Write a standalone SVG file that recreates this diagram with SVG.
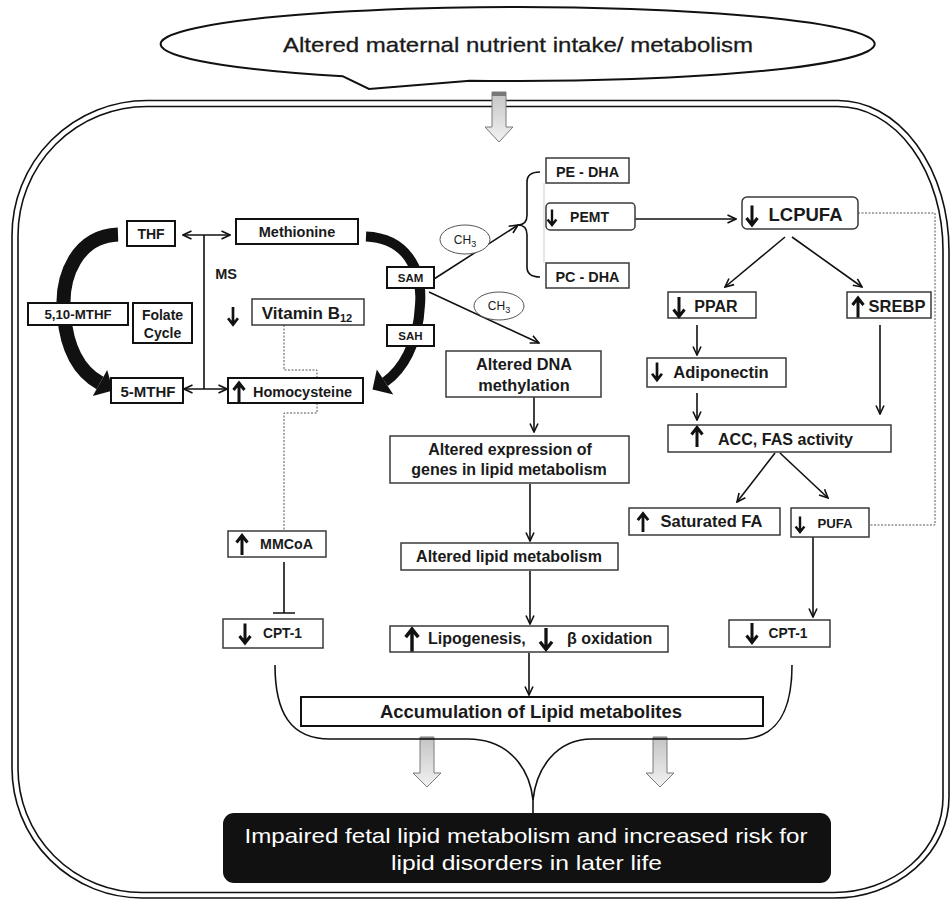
<svg xmlns="http://www.w3.org/2000/svg" xmlns:xlink="http://www.w3.org/1999/xlink" width="952" height="900" viewBox="0 0 952 900">
<style>
.t{font-family:"Liberation Sans",Arial,sans-serif;font-weight:bold;fill:#1a1a1a;text-anchor:middle}
.n{font-family:"Liberation Sans",Arial,sans-serif;font-weight:normal;fill:#1a1a1a;text-anchor:middle}
.b{fill:#fff;stroke:#3a3a3a;stroke-width:1.5}
.bk{fill:#fff;stroke:#111;stroke-width:2}
.c{fill:none;stroke:#111;stroke-width:1.6}
.d{fill:none;stroke:#555;stroke-width:1;stroke-dasharray:2 1.5}
.g{fill:url(#grad);stroke:#7a7a7a;stroke-width:1}
</style>
<defs>
<marker id="a" viewBox="0 0 10 10" refX="9" refY="5" markerWidth="10" markerHeight="10" markerUnits="userSpaceOnUse" orient="auto-start-reverse">
<path d="M0.5,1 L9,5 L0.5,9" fill="none" stroke="#111" stroke-width="1.6"/>
</marker>
<linearGradient id="grad" x1="0" y1="0" x2="0" y2="1">
<stop offset="0" stop-color="#c4c4c4"/>
<stop offset="1" stop-color="#f2f2f2"/>
</linearGradient>
<path id="dn" d="M0,-10 V8.5 M-5.5,2.5 L0,9.5 L5.5,2.5" fill="none" stroke="#111" stroke-width="3"/>
</defs>
<rect width="952" height="900" fill="#fff"/>

<!-- frame -->
<g id="frame" fill="none" stroke="#111" stroke-width="1.6">
<path d="M147,100.5 H838 A111 150 0 0 1 949,250.5 V797 A115 101 0 0 1 834,898 H142 A130 130 0 0 1 12,768 V235.5 A135 135 0 0 1 147,100.5 Z"/>
<path d="M147,106.5 H838 A105 144 0 0 1 943,250.5 V797 A109 95 0 0 1 834,892.5 H142 A124 124 0 0 1 18,768 V235.5 A129 129 0 0 1 147,106.5 Z"/>
</g>

<!-- top callout -->
<g id="callout">
<path d="M343,76.3 L369,89 L470,80.7 A357 37 0 1 0 343,76.3 Z" fill="#fff" stroke="#111" stroke-width="2"/>
<text class="n" x="518" y="52" font-size="21" textLength="470" lengthAdjust="spacingAndGlyphs" style="stroke:#1a1a1a;stroke-width:0.3">Altered maternal nutrient intake/ metabolism</text>
</g>

<!-- gray block arrows -->
<g id="blockarrows">
<polygon class="g" points="492,92 506,92 506,127 513,127 499,142 485,127 492,127"/>
<rect x="492" y="92" width="14" height="4" fill="#777"/>
<polygon class="g" points="420,737 434,737 434,773 441,773 427,787 413,773 420,773"/>
<rect x="420" y="737" width="14" height="3" fill="#888"/>
<polygon class="g" points="653,737 667,737 667,773 674,773 660,787 646,773 653,773"/>
<rect x="653" y="737" width="14" height="3" fill="#888"/>
</g>

<!-- connectors -->
<g id="connectors">
<!-- thick cycle arrows -->
<path d="M118,234.5 C78,236 60,275 64,315 C67,350 80,372 100,383" fill="none" stroke="#111" stroke-width="14"/>
<polygon points="113,390.5 92.8,396.1 107.2,369.9" fill="#111"/>
<path d="M366,236.5 C405,238 423,268 420,305 C418,345 402,370 385,382" fill="none" stroke="#111" stroke-width="10"/>
<polygon points="372.5,389.5 393.3,394.5 376.8,369.6" fill="#111"/>
<!-- MS -->
<path class="c" d="M183,235 H230" marker-start="url(#a)" marker-end="url(#a)"/>
<path class="c" d="M184,389 H227" marker-start="url(#a)" marker-end="url(#a)"/>
<path class="c" d="M204,235 V389"/>
<!-- dashed B12 / MMCoA -->
<path class="d" d="M284,325 V370 H317 V378"/>
<path class="d" d="M317,403 V413 H284 V531"/>
<!-- SAM arrows -->
<path class="c" d="M434,279 L518,225" marker-end="url(#a)"/>
<path class="c" d="M429,292 L539,343" marker-end="url(#a)"/>
<!-- brace -->
<path class="c" d="M540,172 Q527,172 527,182 L527,215 Q527,225 518,225 Q527,225 527,235 L527,267 Q527,277 540,277"/>
<path d="M544,183 V263" stroke="#cfcfcf" stroke-width="1"/>
<!-- PEMT -> LCPUFA -->
<path class="c" d="M635,219 H736" marker-end="url(#a)"/>
<!-- LCPUFA branches -->
<path class="c" d="M785,237 L725,287" marker-end="url(#a)"/>
<path class="c" d="M792,237 L862,287" marker-end="url(#a)"/>
<path class="c" d="M697,325 V355" marker-end="url(#a)"/>
<path class="c" d="M697,393 V420" marker-end="url(#a)"/>
<path class="c" d="M880,325 V414" marker-end="url(#a)"/>
<path class="c" d="M775,453 L737,502" marker-end="url(#a)"/>
<path class="c" d="M780,453 L828,498" marker-end="url(#a)"/>
<path class="c" d="M813,537 V617" marker-end="url(#a)"/>
<path class="d" d="M858,213 H935 V525 H869"/>
<!-- middle column -->
<path class="c" d="M534,397 V432" marker-end="url(#a)"/>
<path class="c" d="M530,484 V541" marker-end="url(#a)"/>
<path class="c" d="M530,571 V624" marker-end="url(#a)"/>
<path class="c" d="M529,653 V695" marker-end="url(#a)"/>
<!-- MMCoA inhibits CPT-1 -->
<path class="c" d="M284,562 V613 M273,613 H295"/>
<!-- bottom brace curves -->
<path class="c" d="M275,665 C275,712 290,739 330,739 L468,739 C510,739 530,770 533,800 L533,813"/>
<path class="c" d="M792,665 C792,712 777,739 740,739 L592,739 C555,739 536,770 533,800"/>
</g>

<!-- left cycle nodes -->
<g id="THF"><rect class="bk" x="127" y="221" width="48" height="25"/><text class="t" x="151" y="238.5" font-size="14">THF</text></g>
<g id="Methionine"><rect class="bk" x="236" y="219" width="122" height="25"/><text class="t" x="297" y="237" font-size="14.5">Methionine</text></g>
<g id="MS"><text class="t" x="226" y="279" font-size="14.5">MS</text></g>
<g id="MTHF510"><rect class="bk" x="28" y="303" width="100" height="22"/><text class="t" x="78" y="318.5" font-size="13.3">5,10-MTHF</text></g>
<g id="FolateCycle"><rect class="bk" x="133" y="303" width="59" height="40"/><text class="t" x="162.5" y="320" font-size="14">Folate</text><text class="t" x="162.5" y="337.5" font-size="14">Cycle</text></g>
<g id="VitaminB12"><rect class="b" x="252" y="299" width="112" height="26"/><text class="t" x="307" y="318.5" font-size="17">Vitamin B<tspan font-size="11" dy="3">12</tspan></text><use href="#dn" xlink:href="#dn" transform="translate(233,316) scale(0.9)"/></g>
<g id="MTHF5"><rect class="bk" x="111" y="378" width="72" height="25"/><text class="t" x="148" y="397" font-size="15">5-MTHF</text></g>
<g id="Homocysteine"><rect class="bk" x="228" y="378" width="135" height="25"/><text class="t" x="302.5" y="396.5" font-size="14.5">Homocysteine</text><use href="#dn" xlink:href="#dn" transform="translate(239,392.5) rotate(180)"/></g>

<!-- SAM / SAH -->
<g id="SAM"><rect class="bk" x="387" y="267" width="47" height="21"/><text class="t" x="410.5" y="281.5" font-size="11.5">SAM</text></g>
<g id="SAH"><rect class="bk" x="387" y="325" width="47" height="21"/><text class="t" x="410.5" y="339.5" font-size="11.5">SAH</text></g>
<g id="CH3a"><ellipse cx="465" cy="239.5" rx="25" ry="14.5" fill="#fff" stroke="#555" stroke-width="1"/><text class="n" x="465" y="243.5" font-size="12">CH<tspan font-size="9" dy="3">3</tspan></text></g>
<g id="CH3b"><ellipse cx="499" cy="306" rx="25" ry="14" fill="#fff" stroke="#555" stroke-width="1"/><text class="n" x="499" y="310" font-size="12">CH<tspan font-size="9" dy="3">3</tspan></text></g>

<!-- DHA / PEMT -->
<g id="PEDHA"><rect class="b" x="546" y="158" width="83" height="25"/><text class="t" x="587.5" y="176.5" font-size="14.4">PE - DHA</text></g>
<g id="PEMT"><rect class="b" x="546" y="203" width="89" height="27" rx="4"/><text class="t" x="589.5" y="222" font-size="14">PEMT</text><use href="#dn" xlink:href="#dn" transform="translate(552,217.5) scale(0.8)"/></g>
<g id="PCDHA"><rect class="b" x="546" y="263" width="83" height="25"/><text class="t" x="587.5" y="282" font-size="14.4">PC - DHA</text></g>

<!-- right column -->
<g id="LCPUFA"><rect class="b" x="742" y="197" width="116" height="32" rx="5"/><text class="t" x="805.5" y="221" font-size="18.5">LCPUFA</text><use href="#dn" xlink:href="#dn" transform="translate(752,215.5)"/></g>
<g id="PPAR"><rect class="b" x="668" y="292" width="88" height="26"/><text class="t" x="716" y="312" font-size="16">PPAR</text><use href="#dn" xlink:href="#dn" transform="translate(679,307)"/></g>
<g id="SREBP"><rect class="b" x="847" y="292" width="84" height="26"/><text class="t" x="897" y="312" font-size="16.5">SREBP</text><use href="#dn" xlink:href="#dn" transform="translate(858,307.5) rotate(180)"/></g>
<g id="Adiponectin"><rect class="b" x="647" y="358" width="139" height="29"/><text class="t" x="721" y="378" font-size="16.5">Adiponectin</text><use href="#dn" xlink:href="#dn" transform="translate(657,371.5) scale(0.9)"/></g>
<g id="ACCFAS"><rect class="b" x="668" y="425" width="223" height="27"/><text class="t" x="785.5" y="445" font-size="16.1">ACC, FAS activity</text><use href="#dn" xlink:href="#dn" transform="translate(697,437) rotate(180)"/></g>
<g id="SaturatedFA"><rect class="b" x="629" y="508" width="151" height="27"/><text class="t" x="711.5" y="527" font-size="16.5">Saturated FA</text><use href="#dn" xlink:href="#dn" transform="translate(643,522.5) rotate(180) scale(0.95)"/></g>
<g id="PUFA"><rect class="b" x="791" y="508" width="78" height="29"/><text class="t" x="835" y="528" font-size="13.2">PUFA</text><use href="#dn" xlink:href="#dn" transform="translate(800,524.5) scale(0.8)"/></g>
<g id="CPT1right"><rect class="b" x="729" y="620" width="101" height="27"/><text class="t" x="788" y="638" font-size="13.8">CPT-1</text><use href="#dn" xlink:href="#dn" transform="translate(752,633)"/></g>

<!-- middle column -->
<g id="DNAmethylation"><rect class="b" x="446" y="351" width="155" height="46"/><text class="t" x="524" y="370" font-size="16.3">Altered DNA</text><text class="t" x="524" y="391" font-size="16.3">methylation</text></g>
<g id="GeneExpression"><rect class="b" x="390" y="436" width="239" height="47"/><text class="t" x="510" y="455" font-size="16">Altered expression of</text><text class="t" x="509" y="475" font-size="16">genes in lipid metabolism</text></g>
<g id="LipidMetabolism"><rect class="b" x="401" y="543" width="217" height="27"/><text class="t" x="509" y="562" font-size="16">Altered lipid metabolism</text></g>
<g id="Lipogenesis"><rect class="b" x="390" y="626" width="278" height="26"/>
<text class="t" x="428" y="643.5" font-size="16" style="text-anchor:start">Lipogenesis,</text>
<text class="t" x="567" y="643.5" font-size="16" style="text-anchor:start">β oxidation</text>
<use href="#dn" xlink:href="#dn" transform="translate(412,640) rotate(180) scale(1.15)"/>
<use href="#dn" xlink:href="#dn" transform="translate(546,639) scale(1.1)"/></g>

<!-- left lower -->
<g id="MMCoA"><rect class="b" x="228" y="531" width="98" height="26"/><text class="t" x="286.5" y="548.5" font-size="14.2">MMCoA</text><use href="#dn" xlink:href="#dn" transform="translate(242,545) rotate(180)"/></g>
<g id="CPT1left"><rect class="b" x="223" y="619" width="100" height="29"/><text class="t" x="282.5" y="638" font-size="13.8">CPT-1</text><use href="#dn" xlink:href="#dn" transform="translate(245,633.5)"/></g>

<!-- bottom -->
<g id="Accumulation"><rect class="bk" x="301" y="697" width="462" height="29"/><text class="t" x="531" y="718" font-size="18.5">Accumulation of Lipid metabolites</text></g>
<g id="Outcome"><rect x="223" y="813" width="608" height="70" rx="11" fill="#111"/>
<text class="n" x="526" y="843" font-size="21" style="fill:#fff" textLength="563" lengthAdjust="spacingAndGlyphs">Impaired fetal lipid metabolism and increased risk for</text>
<text class="n" x="526.5" y="870" font-size="21" style="fill:#fff" textLength="271" lengthAdjust="spacingAndGlyphs">lipid disorders in later life</text></g>
</svg>
